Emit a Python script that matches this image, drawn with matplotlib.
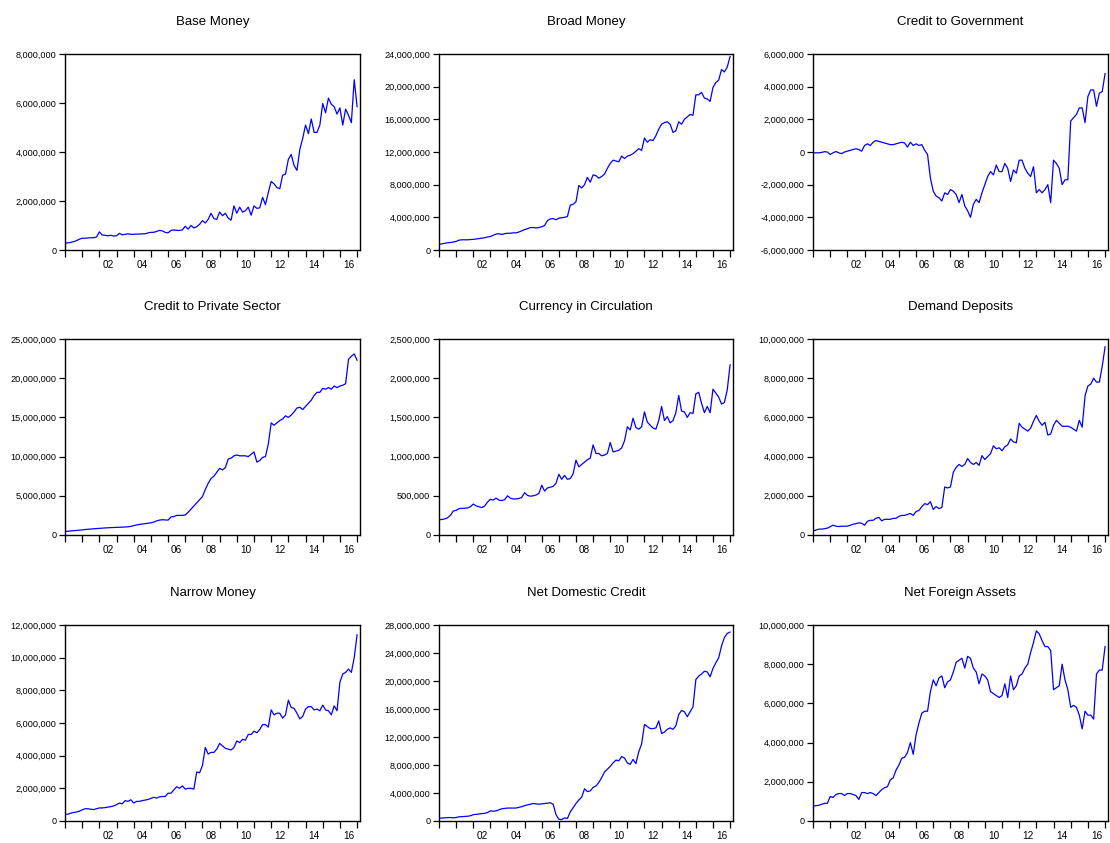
import numpy as np
import matplotlib.pyplot as plt
from matplotlib.ticker import FuncFormatter, MultipleLocator, FixedLocator

plt.rcParams['font.family'] = ['Liberation Sans', 'DejaVu Sans']

dates = 2000 + np.arange(103) / 6.0

# millions
base_money = [
    0.28, 0.29, 0.31, 0.34, 0.38, 0.44,
    0.48, 0.48, 0.49, 0.50, 0.50, 0.53,
    0.74, 0.61, 0.60, 0.58, 0.60, 0.57,
    0.58, 0.68, 0.62, 0.64, 0.66, 0.64,
    0.64, 0.65, 0.65, 0.66, 0.66, 0.70,
    0.72, 0.72, 0.76, 0.80, 0.78, 0.72,
    0.70, 0.80, 0.82, 0.80, 0.80, 0.82,
    0.97, 0.85, 1.00, 0.90, 0.95, 1.05,
    1.20, 1.10, 1.25, 1.50, 1.28, 1.25,
    1.55, 1.40, 1.50, 1.30, 1.22, 1.80,
    1.50, 1.75, 1.55, 1.60, 1.75, 1.42,
    1.80, 1.70, 1.72, 2.15, 1.85, 2.35,
    2.80, 2.70, 2.55, 2.50, 3.05, 3.10,
    3.70, 3.90, 3.45, 3.25, 4.10, 4.55,
    5.10, 4.75, 5.35, 4.80, 4.80, 5.10,
    5.98, 5.60, 6.20, 5.95, 5.85, 5.55,
    5.80, 5.10, 5.75, 5.50, 5.20, 6.95,
    5.85]

broad_money = [
    0.70, 0.75, 0.82, 0.88, 0.92, 0.98,
    1.05, 1.20, 1.25, 1.25, 1.25, 1.28,
    1.30, 1.35, 1.40, 1.45, 1.50, 1.60,
    1.65, 1.80, 1.95, 2.00, 1.90, 2.00,
    2.05, 2.05, 2.10, 2.10, 2.20, 2.35,
    2.50, 2.60, 2.75, 2.75, 2.70, 2.75,
    2.85, 3.00, 3.60, 3.80, 3.85, 3.70,
    3.90, 3.95, 4.00, 4.10, 5.50, 5.60,
    5.90, 7.90, 7.60, 8.00, 8.90, 8.30,
    9.20, 9.10, 8.80, 9.00, 9.30, 10.00,
    10.60, 11.00, 10.90, 10.80, 11.50, 11.20,
    11.50, 11.60, 11.80, 12.10, 12.40, 12.20,
    13.70, 13.20, 13.50, 13.40, 14.00, 14.80,
    15.40, 15.60, 15.70, 15.40, 14.40, 14.60,
    15.70, 15.40, 16.00, 16.30, 16.60, 16.50,
    19.00, 19.00, 19.30, 18.60, 18.50, 18.20,
    19.90, 20.50, 20.80, 22.10, 21.80, 22.40,
    23.70]

credit_gov = [
    -0.05, -0.05, -0.05, -0.03, 0.02, 0.00,
    -0.15, -0.05, 0.03, -0.05, -0.10, 0.00,
    0.05, 0.10, 0.15, 0.20, 0.15, 0.05,
    0.40, 0.50, 0.40, 0.60, 0.70, 0.65,
    0.60, 0.55, 0.50, 0.45, 0.45, 0.50,
    0.55, 0.60, 0.55, 0.30, 0.60, 0.40,
    0.50, 0.40, 0.45, 0.10, -0.15, -1.60,
    -2.40, -2.70, -2.80, -3.00, -2.50, -2.60,
    -2.30, -2.40, -2.60, -3.10, -2.60, -3.30,
    -3.60, -4.00, -3.20, -2.90, -3.10, -2.50,
    -2.00, -1.50, -1.20, -1.40, -0.80, -1.20,
    -1.20, -0.70, -1.00, -1.80, -1.10, -1.30,
    -0.50, -0.50, -1.00, -1.30, -1.50, -0.90,
    -2.50, -2.30, -2.50, -2.30, -2.00, -3.10,
    -0.50, -0.70, -1.00, -2.00, -1.70, -1.70,
    1.90, 2.10, 2.30, 2.70, 2.70, 1.80,
    3.40, 3.80, 3.80, 2.80, 3.60, 3.70,
    4.80]

credit_private = [
    0.45, 0.48, 0.52, 0.55, 0.58, 0.62,
    0.65, 0.70, 0.73, 0.76, 0.79, 0.82,
    0.85, 0.87, 0.90, 0.92, 0.94, 0.96,
    0.97, 0.99, 1.00, 1.02, 1.05, 1.10,
    1.20, 1.28, 1.35, 1.40, 1.45, 1.50,
    1.55, 1.65, 1.80, 1.90, 1.95, 1.92,
    1.90, 2.30, 2.35, 2.50, 2.50, 2.50,
    2.55, 2.90, 3.30, 3.70, 4.10, 4.50,
    4.90, 5.80, 6.60, 7.20, 7.50, 8.00,
    8.50, 8.30, 8.60, 9.70, 9.80, 10.10,
    10.20, 10.10, 10.10, 10.10, 10.00, 10.30,
    10.60, 9.30, 9.50, 9.90, 10.00, 11.60,
    14.30, 14.00, 14.30, 14.60, 14.80, 15.20,
    15.00, 15.30, 15.70, 16.20, 16.30, 16.00,
    16.40, 16.80, 17.20, 17.80, 18.20, 18.20,
    18.70, 18.60, 18.80, 18.60, 19.00, 18.80,
    19.00, 19.10, 19.30, 22.40, 22.80, 23.10,
    22.30]

# thousands
currency = [
    195, 198, 205, 220, 250, 305,
    315, 335, 340, 342, 345, 360,
    395, 372, 360, 350, 370, 420,
    455, 445, 470, 445, 440, 450,
    500, 470, 460, 460, 465, 480,
    540, 505, 495, 500, 510, 530,
    635, 560, 600, 610, 620, 660,
    775, 710, 760, 710, 720, 780,
    955, 870, 900, 930, 960, 980,
    1150, 1040, 1040, 1010, 1020, 1040,
    1180, 1060, 1070, 1080, 1110, 1200,
    1380, 1340, 1490, 1370, 1350, 1380,
    1570, 1440, 1400, 1365, 1350, 1460,
    1640, 1460, 1510, 1430, 1460, 1560,
    1780, 1580, 1570, 1500, 1560, 1550,
    1800, 1820, 1680, 1560, 1640, 1560,
    1860, 1810, 1760, 1670, 1690, 1850,
    2170]

demand_deposits = [
    0.20, 0.25, 0.30, 0.30, 0.32, 0.35,
    0.42, 0.50, 0.45, 0.43, 0.45, 0.45,
    0.45, 0.50, 0.55, 0.58, 0.62, 0.60,
    0.50, 0.70, 0.75, 0.75, 0.85, 0.90,
    0.72, 0.80, 0.80, 0.80, 0.85, 0.85,
    0.95, 1.00, 1.00, 1.05, 1.10, 1.00,
    1.20, 1.25, 1.45, 1.60, 1.55, 1.70,
    1.30, 1.45, 1.35, 1.40, 2.45, 2.40,
    2.45, 3.20, 3.45, 3.60, 3.50, 3.60,
    3.90, 3.70, 3.60, 3.70, 3.55, 4.05,
    3.85, 4.00, 4.15, 4.55, 4.40, 4.45,
    4.30, 4.50, 4.60, 4.90, 4.75, 4.70,
    5.70, 5.50, 5.40, 5.30, 5.45, 5.80,
    6.10, 5.80, 5.60, 5.75, 5.10, 5.15,
    5.60, 5.85, 5.70, 5.55, 5.55, 5.55,
    5.50, 5.40, 5.30, 5.85, 5.50, 7.10,
    7.60, 7.70, 8.00, 7.80, 7.80, 8.60,
    9.60]

narrow_money = [
    0.40, 0.42, 0.48, 0.52, 0.55, 0.60,
    0.68, 0.75, 0.75, 0.72, 0.70, 0.75,
    0.80, 0.80, 0.82, 0.85, 0.88, 0.92,
    1.00, 1.10, 1.05, 1.25, 1.20, 1.30,
    1.10, 1.20, 1.20, 1.25, 1.28, 1.32,
    1.38, 1.45, 1.40, 1.48, 1.50, 1.50,
    1.70, 1.70, 1.90, 2.10, 2.00, 2.15,
    1.95, 2.00, 2.00, 1.95, 3.00, 2.95,
    3.40, 4.50, 4.10, 4.20, 4.20, 4.40,
    4.75, 4.60, 4.45, 4.40, 4.35, 4.50,
    4.90, 4.80, 5.00, 4.95, 5.30, 5.30,
    5.50, 5.40, 5.60, 5.90, 5.90, 5.75,
    6.80, 6.50, 6.60, 6.60, 6.30, 6.50,
    7.40, 6.95, 6.90, 6.60, 6.25, 6.40,
    6.85, 7.00, 7.00, 6.80, 6.85, 6.75,
    7.10, 6.80, 6.75, 6.50, 7.05, 6.75,
    8.50, 9.00, 9.10, 9.30, 9.10, 10.00,
    11.40]

net_domestic_credit = [
    0.40, 0.42, 0.45, 0.48, 0.50, 0.45,
    0.50, 0.60, 0.62, 0.65, 0.68, 0.75,
    0.90, 0.95, 1.00, 1.05, 1.10, 1.20,
    1.45, 1.40, 1.45, 1.60, 1.75, 1.80,
    1.85, 1.85, 1.85, 1.85, 1.95, 2.05,
    2.20, 2.30, 2.40, 2.50, 2.45, 2.40,
    2.45, 2.50, 2.55, 2.60, 2.40, 0.90,
    0.25, 0.20, 0.45, 0.35, 1.30, 1.90,
    2.50, 3.00, 3.40, 4.60, 4.20, 4.30,
    4.80, 5.00, 5.50, 6.20, 7.00, 7.40,
    7.80, 8.30, 8.70, 8.60, 9.20, 9.00,
    8.30, 8.10, 8.80, 8.20, 9.90, 11.00,
    13.80, 13.50, 13.20, 13.20, 13.30, 14.30,
    12.50, 12.70, 13.10, 13.30, 13.10, 13.60,
    15.20, 15.80, 15.60, 14.90, 15.60, 16.30,
    20.20, 20.70, 21.00, 21.40, 21.30, 20.60,
    21.80, 22.60, 23.30, 25.00, 26.20, 26.80,
    27.00]

net_foreign_assets = [
    0.75, 0.78, 0.80, 0.85, 0.90, 0.90,
    1.25, 1.20, 1.35, 1.40, 1.40, 1.30,
    1.40, 1.40, 1.35, 1.30, 1.10, 1.45,
    1.45, 1.40, 1.45, 1.40, 1.30, 1.45,
    1.60, 1.70, 1.75, 2.10, 2.20, 2.60,
    2.85, 3.20, 3.25, 3.50, 4.00, 3.40,
    4.40, 5.00, 5.50, 5.60, 5.60, 6.60,
    7.20, 6.90, 7.30, 7.40, 6.80, 7.10,
    7.20, 7.60, 8.10, 8.20, 8.30, 7.80,
    8.40, 8.30, 7.80, 7.60, 7.00, 7.50,
    7.40, 7.20, 6.60, 6.50, 6.40, 6.30,
    6.40, 7.00, 6.30, 7.40, 6.70, 6.90,
    7.40, 7.50, 7.80, 8.00, 8.60, 9.10,
    9.70, 9.55, 9.20, 8.90, 8.90, 8.70,
    6.70, 6.80, 6.90, 8.00, 7.20, 6.70,
    5.80, 5.90, 5.80, 5.40, 4.70, 5.60,
    5.40, 5.40, 5.20, 7.50, 7.70, 7.70,
    8.90]

titles = ['Base Money', 'Broad Money', 'Credit to Government',
          'Credit to Private Sector', 'Currency in Circulation', 'Demand Deposits',
          'Narrow Money', 'Net Domestic Credit', 'Net Foreign Assets']
series = [base_money, broad_money, credit_gov,
          credit_private, currency, demand_deposits,
          narrow_money, net_domestic_credit, net_foreign_assets]
scales = [1e6, 1e6, 1e6, 1e6, 1e3, 1e6, 1e6, 1e6, 1e6]
y_ranges = [(0, 8e6, 2e6), (0, 24e6, 4e6), (-6e6, 6e6, 2e6),
            (0, 25e6, 5e6), (0, 2.5e6, 5e5), (0, 10e6, 2e6),
            (0, 12e6, 2e6), (0, 28e6, 4e6), (0, 10e6, 2e6)]

W, H = 1110, 843
lefts = [65, 439, 813]
widths = [295, 294, 295]
tops = [54, 339, 625]
ax_h = 196

fig = plt.figure(figsize=(W / 100, H / 100), dpi=100)

for i in range(9):
    r, c = divmod(i, 3)
    ax = fig.add_axes([lefts[c] / W, 1 - (tops[r] + ax_h) / H, widths[c] / W, ax_h / H])
    vals = np.array(series[i]) * scales[i]
    ax.plot(dates, vals, color='#0000ff', lw=0.9)

    lo, hi, step = y_ranges[i]
    ax.set_ylim(lo, hi)
    ax.yaxis.set_major_locator(MultipleLocator(step))
    ax.yaxis.set_major_formatter(FuncFormatter(lambda v, p: f'{v:,.0f}'))
    ax.set_xlim(2000, 2017.17)

    # year ticks without labels, labels in the middle of even years
    ax.xaxis.set_major_locator(FixedLocator(np.arange(2000, 2018)))
    ax.xaxis.set_major_formatter(FuncFormatter(lambda v, p: ''))
    ax.xaxis.set_minor_locator(FixedLocator(np.arange(2002, 2017, 2) + 0.5))
    ax.xaxis.set_minor_formatter(FuncFormatter(lambda v, p: f'{int(v) % 100:02d}'))
    ax.tick_params(axis='x', which='major', direction='out', length=5, width=0.9)
    ax.tick_params(axis='x', which='minor', length=0, labelsize=7.2, pad=7.5)
    ax.tick_params(axis='y', direction='out', length=4.3, width=0.9, labelsize=6.6, pad=2)
    ax.tick_params(top=False, right=False)
    for s in ax.spines.values():
        s.set_linewidth(1.0)

    ax.text(0.5, 1 + 32 / ax_h, titles[i], transform=ax.transAxes,
            ha='center', va='center', fontsize=9.5)

fig.savefig('out.png', dpi=100)
